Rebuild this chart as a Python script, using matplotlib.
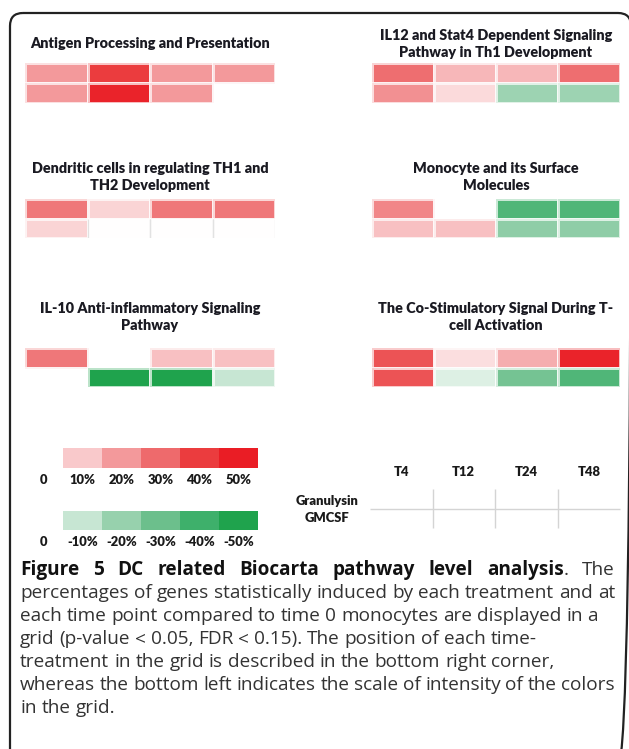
import numpy as np
import matplotlib
matplotlib.use("Agg")
import matplotlib.pyplot as plt
from matplotlib.colors import LinearSegmentedColormap, Normalize
from matplotlib.patches import FancyBboxPatch

# Percent of genes induced (+) / repressed (-), rows = Granulysin, GMCSF; cols = T4..T48
# nan = no cell drawn, 0 = empty cell
timepoints = ["T4", "T12", "T24", "T48"]
treatments = ["Granulysin", "GMCSF"]

pathway_titles = [
    "Antigen Processing and Presentation",
    "IL12 and Stat4 Dependent Signaling\nPathway in Th1 Development",
    "Dendritic cells in regulating TH1 and\nTH2 Development",
    "Monocyte and its Surface\nMolecules",
    "IL-10 Anti-inflammatory Signaling\nPathway",
    "The Co-Stimulatory Signal During T-\ncell Activation",
]

antigen = [[20, 40, 20, 20],
           [20, 48, 20, np.nan]]
il12 = [[29, 14, 14, 29],
        [22, 7, -19, -19]]
dendritic = [[27, 8, 27, 27],
             [8, 0, 0, 0]]
monocyte = [[24, np.nan, -36, -36],
            [12, 12, -22, -22]]
il10 = [[27, np.nan, 12, 12],
        [np.nan, -50, -50, -10]]
costim = [[35, 6, 16, 48],
          [35, -6, -28, -36]]

scale_pos = [10, 20, 30, 40, 50]
scale_neg = [-10, -20, -30, -40, -50]

# colour scale
scale_levels = [-50, -40, -30, -20, -10, 0, 10, 20, 30, 40, 50]
scale_colors = ["#1fa34d", "#3fb06c", "#6cbf8c", "#98d1ae", "#c7e6d3", "#ffffff",
                "#f9c9cb", "#f39a9c", "#ee6a6c", "#eb3d3f", "#ea1d25"]

# caption: (text, bold) pieces per line; True in justify = spread words to full width
caption = [
    [("Figure 5 DC related Biocarta pathway level analysis", True), (". The", False)],
    [("percentages of genes statistically induced by each treatment and at", False)],
    [("each time point compared to time 0 monocytes are displayed in a", False)],
    [("grid (p-value < 0.05, FDR < 0.15). The position of each time-", False)],
    [("treatment in the grid is described in the bottom right corner,", False)],
    [("whereas the bottom left indicates the scale of intensity of the colors", False)],
    [("in the grid.", False)],
]
justify = [True, True, False, False, False, True, False]

W, H = 629, 749
norm = Normalize(-50, 50)
cmap = LinearSegmentedColormap.from_list(
    "pct", [((v + 50) / 100, c) for v, c in zip(scale_levels, scale_colors)])

fig = plt.figure(figsize=(W / 100, H / 100), dpi=100)
ax = fig.add_axes([0, 0, 1, 1])
ax.set_xlim(0, W)
ax.set_ylim(H, 0)
ax.axis("off")

# rounded frame, runs off the right/bottom edge like the scan
ax.add_patch(FancyBboxPatch((10, 13), 621, 752, boxstyle="round,pad=0,rounding_size=13",
                            fill=False, lw=1.6, ec="#222222"))


def px_axes(x0, y0, x1, y1):
    a = fig.add_axes([x0 / W, 1 - y1 / H, (x1 - x0) / W, (y1 - y0) / H])
    a.axis("off")
    return a


def heat(vals, box):
    a = px_axes(*box)
    v = np.array(vals, dtype=float)
    a.pcolormesh(np.ma.masked_invalid(v), cmap=cmap, norm=norm,
                 edgecolors=(1, 1, 1, 0.7), linewidth=0.8)
    for r, c in zip(*np.where(v == 0)):
        a.vlines([c, c + 1], r, r + 1, color="#e2e2e2", lw=0.9)
    a.set_xlim(0, v.shape[1])
    a.set_ylim(v.shape[0], 0)
    return a


title_kw = dict(fontfamily="Lato", fontweight="heavy", fontsize=10.4, color="#1a1a22",
                ha="center", va="center", linespacing=1.35)

panels = [antigen, il12, dendritic, monocyte, il10, costim]
boxes = [(25, 63, 275, 103), (372, 63, 620, 103),
         (25, 199, 275, 238), (372, 199, 620, 238),
         (25, 348, 275, 387), (372, 348, 620, 387)]
title_y = [44, 44, 177, 177, 317, 317]
for vals, box, t, ty in zip(panels, boxes, pathway_titles, title_y):
    heat(vals, box)
    ax.text((box[0] + box[2]) / 2, ty, t, **title_kw)

# legend bars
lab_kw = dict(fontfamily="Lato", fontweight="heavy", fontsize=9.4, color="#1a1a1a",
              ha="center", va="center")
for vals, (y0, y1), ly in [(scale_pos, (448, 468), 480), (scale_neg, (511, 530), 542)]:
    a = px_axes(63, y0, 258, y1)
    a.pcolormesh(np.array([vals], dtype=float), cmap=cmap, norm=norm)
    a.set_xlim(0, len(vals))
    ax.text(43, ly, "0", **lab_kw)
    for i, v in enumerate(vals):
        ax.text(63 + (i + 0.5) * 39, ly, f"{v}%", **lab_kw)

# key for grid positions
kx0, kx1, ky0, ky1 = 370, 620, 489, 528
cw = (kx1 - kx0) / len(timepoints)
for i, t in enumerate(timepoints):
    ax.text(kx0 + (i + 0.5) * cw, 472, t, **lab_kw)
ax.hlines((ky0 + ky1) / 2, kx0, kx1, color="#d4d4d4", lw=1)
ax.vlines([kx0 + i * cw for i in range(1, len(timepoints))], ky0, ky1, color="#d4d4d4", lw=1)
ax.text(327, 501, treatments[0], **lab_kw)
ax.text(327, 518, treatments[1], **lab_kw)

# caption, justified between x=20 and x=615
cap_kw = dict(fontfamily="Open Sans", fontsize=13.7, va="center", ha="left")
renderer = fig.canvas.get_renderer()
x_left, x_right = 20, 615


def width(s, bold):
    t = ax.text(0, 0, s, fontweight="bold" if bold else "normal", **cap_kw)
    w = t.get_window_extent(renderer).width
    t.remove()
    return w


space_w = width("a a", False) - width("aa", False)
for i, (pieces, just) in enumerate(zip(caption, justify)):
    y = 570 + 23 * i
    # split into words, each word a list of (text, bold) pieces
    words = [[]]
    for text, bold in pieces:
        parts = text.split(" ")
        for j, p in enumerate(parts):
            if j > 0:
                words.append([])
            if p:
                words[-1].append((p, bold))
    words = [w for w in words if w]
    widths = [sum(width(p, b) for p, b in w) for w in words]
    gap = space_w
    if just:
        gap = max(space_w * 0.7, (x_right - x_left - sum(widths)) / (len(words) - 1))
    x = x_left
    for w, ww in zip(words, widths):
        xx = x
        for p, b in w:
            ax.text(xx, y, p, fontweight="bold" if b else "normal",
                    color="#111111" if b else "#333333", **cap_kw)
            xx += width(p, b)
        x += ww + gap

fig.savefig("out.png", dpi=100)
